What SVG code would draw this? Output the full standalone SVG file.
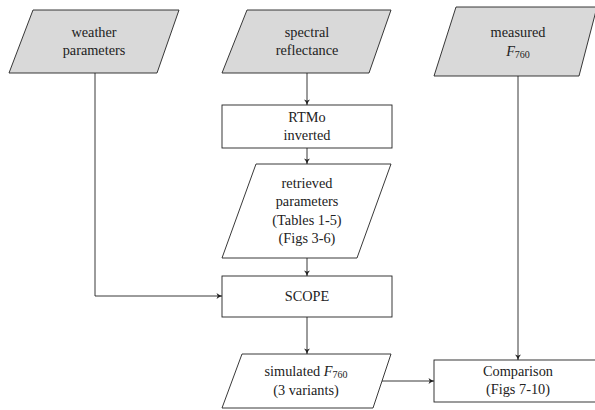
<svg xmlns="http://www.w3.org/2000/svg" width="595" height="410" viewBox="0 0 595 410">
<style>
.io{fill:#d9d9d9;stroke:#222;stroke-width:0.9}
.pr{fill:#fff;stroke:#222;stroke-width:0.9}
.t{font-size:14.3px;fill:#222;text-anchor:middle}
.sub{font-size:10px}
.c{fill:none;stroke:#222;stroke-width:0.9;marker-end:url(#ah)}
</style>
<defs>
<marker id="ah" markerWidth="8" markerHeight="8" refX="6" refY="4" orient="auto" markerUnits="userSpaceOnUse">
<path d="M0.5,1 Q3,3.2 6,4 Q3,4.8 0.5,7 L1.8,4 Z" fill="#222"/>
</marker>
</defs>
<rect width="595" height="410" fill="#fff"/>
<g font-family="'Liberation Serif', serif">
<g id="weather">
<polygon class="io" points="33,10 179,10 157,73 9,73"/>
<text class="t" x="94" y="37">weather</text>
<text class="t" x="94" y="55">parameters</text>
</g>
<g id="spectral">
<polygon class="io" points="247,10 391,10 369,73 222,73"/>
<text class="t" x="307" y="37">spectral</text>
<text class="t" x="307" y="55">reflectance</text>
</g>
<g id="measured">
<polygon class="io" points="456,7 597,7 579,76 434,76"/>
<text class="t" x="518" y="37">measured</text>
<text class="t" x="518" y="56"><tspan font-style="italic">F</tspan><tspan class="sub" dy="2">760</tspan></text>
</g>
<g id="rtmo">
<rect class="pr" x="222" y="105" width="170" height="43"/>
<text class="t" x="307" y="122">RTMo</text>
<text class="t" x="307" y="140">inverted</text>
</g>
<g id="retrieved">
<polygon class="pr" points="256,164 391,164 357,258 222,258"/>
<text class="t" x="307" y="188">retrieved</text>
<text class="t" x="307" y="206">parameters</text>
<text class="t" x="307" y="225">(Tables 1-5)</text>
<text class="t" x="307" y="243">(Figs 3-6)</text>
</g>
<g id="scope">
<rect class="pr" x="222" y="276" width="170" height="41"/>
<text class="t" x="307" y="301">SCOPE</text>
</g>
<g id="simulated">
<polygon class="pr" points="242,354 391,354 373,408 222,408"/>
<text class="t" x="306" y="376">simulated <tspan font-style="italic">F</tspan><tspan class="sub" dy="2">760</tspan></text>
<text class="t" x="306" y="395">(3 variants)</text>
</g>
<g id="comparison">
<rect class="pr" x="434" y="360" width="168" height="42"/>
<text class="t" x="518" y="376">Comparison</text>
<text class="t" x="518" y="394">(Figs 7-10)</text>
</g>
</g>
<g id="connectors">
<path class="c" d="M95,73 V296 H222"/>
<path class="c" d="M307,73 V105"/>
<path class="c" d="M307,148 V164"/>
<path class="c" d="M307,258 V276"/>
<path class="c" d="M307,317 V354"/>
<path class="c" d="M518,76 V360"/>
<path class="c" d="M382,381 H434"/>
</g>
</svg>
